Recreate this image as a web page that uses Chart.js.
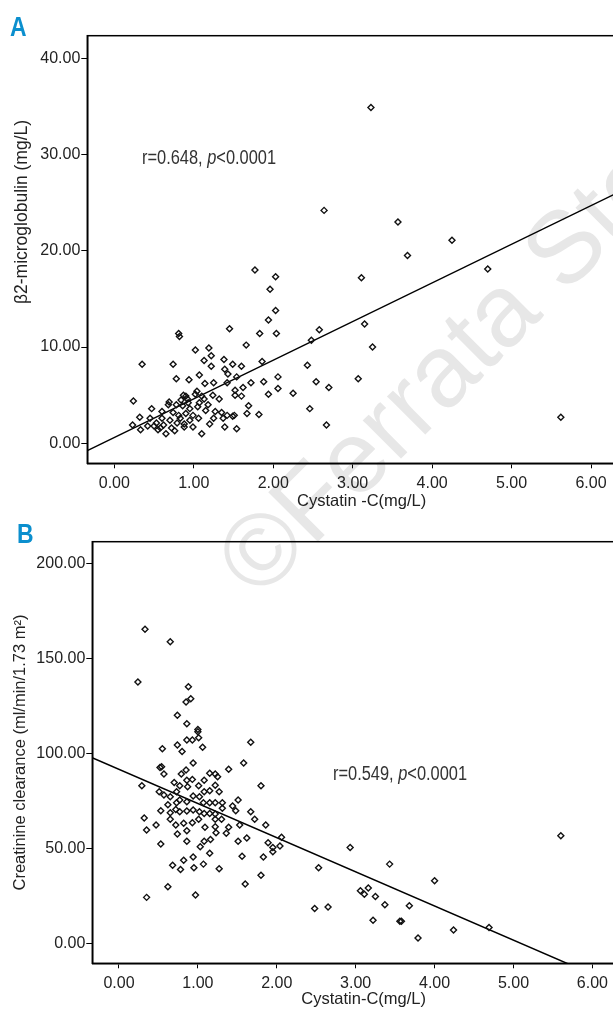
<!DOCTYPE html>
<html><head><meta charset="utf-8">
<script src="https://cdn.jsdelivr.net/npm/chart.js@4.4.1/dist/chart.umd.min.js"></script>
<style>
html,body{margin:0;padding:0;background:#fff;}
body{width:613px;height:1009px;overflow:hidden;position:relative;font-family:'Liberation Sans',Arial,sans-serif;}
#wm{position:absolute;left:198px;top:540px;transform-origin:0 0;transform:rotate(-45deg);font:102px/102px 'Liberation Sans',Arial,sans-serif;color:#e7e7e7;white-space:nowrap;z-index:0;}
canvas{position:absolute;left:0;z-index:1;}
#cA{top:0}
#cB{top:515px}
.lbl{position:absolute;font-weight:bold;font-size:27px;line-height:27px;color:#0b8fce;z-index:2;transform-origin:0 0;transform:scaleX(0.85)}
.ann{position:absolute;font-size:20px;line-height:20px;color:#333;white-space:nowrap;z-index:2;transform-origin:0 0;transform:scaleX(0.82)}
#ytA{position:absolute;left:22px;top:212px;transform:translate(-50%,-50%) rotate(-90deg);font-size:17.5px;line-height:17.5px;color:#222;white-space:nowrap;z-index:2}
</style></head>
<body>
<div id="wm">©Ferrata Storti</div>
<canvas id="cA" width="660" height="515"></canvas>
<canvas id="cB" width="660" height="494"></canvas>
<div class="lbl" style="left:10px;top:14px">A</div>
<div class="lbl" style="left:17px;top:521px">B</div>
<div class="ann" style="left:142px;top:147px">r=0.648, <i>p</i>&lt;0.0001</div>
<div class="ann" style="left:333px;top:763px">r=0.549, <i>p</i>&lt;0.0001</div>
<div id="ytA">β2-microglobulin (mg/L)</div>
<script>
// ---- Panel A data: Cystatin-C (mg/L) vs beta2-microglobulin (mg/L)
const cysA = [1.77,2.03,1.96,2.03,1.94,1.83,2.04,1.45,0.81,0.82,
  0.35,0.74,1.02,1.19,1.22,1.13,1.22,1.38,1.49,1.60,1.66,1.86,1.39,1.43,1.07,0.94,0.78,1.14,1.25,1.42,1.54,1.72,1.88,2.06,2.06,1.94,1.62,1.52,1.52,1.60,2.25,2.43,2.54,2.46,2.48,2.58,
  0.24,0.32,0.23,0.33,0.47,0.45,0.53,0.60,0.69,0.68,0.84,0.90,0.93,1.02,1.07,1.10,1.18,1.24,1.32,1.15,1.27,1.35,1.42,1.51,1.25,1.37,1.49,1.67,1.69,1.82,1.39,1.54,1.10,0.83,0.79,0.72,0.65,0.55,0.62,0.74,0.81,0.90,0.95,0.99,0.88,0.99,1.06,0.95,0.86,1.04,0.87,1.13,0.50,
  0.70,0.58,0.78,0.92,1.05,0.60,0.42,0.88,1.20,0.76,
  3.23,2.64,3.57,4.25,3.69,3.11,4.70,3.15,3.25,2.70,3.07,2.67,5.62];
const b2m = [18.0,17.3,16.0,13.8,12.8,11.4,11.4,11.9,11.4,11.1,
  8.2,8.2,9.7,9.9,9.1,8.6,8.0,8.7,8.2,8.0,10.2,8.5,7.7,7.2,7.1,6.6,6.7,6.2,6.3,6.3,6.9,6.3,6.4,6.9,5.7,5.1,5.8,5.5,5.0,4.9,5.2,8.1,6.4,3.6,10.7,11.8,
  4.4,2.7,1.9,1.4,3.6,2.6,2.1,3.3,4.3,4.0,4.5,4.9,4.2,5.1,4.2,4.9,4.0,5.0,4.6,3.4,3.3,3.2,2.9,2.9,2.6,2.6,2.8,3.1,3.9,3.0,1.7,1.5,1.0,2.6,2.1,1.6,1.0,1.4,1.9,3.2,2.9,3.1,2.4,1.7,1.7,2.9,2.6,3.6,3.9,5.4,5.0,4.6,1.8,
  2.4,1.6,4.0,4.6,3.8,2.6,1.8,2.0,2.0,1.3,
  34.9,24.2,23.0,21.1,19.5,17.2,18.1,12.4,10.0,5.8,6.7,1.9,2.7];
const fitAx = [-0.34, 6.6];
const fitAy = [-0.77, 27.1];

// ---- Panel B data: Cystatin-C (mg/L) vs creatinine clearance
const cysB = [0.33,0.65,0.24,0.88,0.91,0.85,0.74,0.86,1.00,1.00,1.01,0.86,0.93,0.74,1.67,1.06,0.55,0.80,0.94,1.58,
  0.52,0.54,0.57,0.85,0.79,1.39,1.15,1.22,1.25,1.08,0.93,0.86,0.70,0.29,1.80,1.22,1.01,0.87,0.77,0.73,
  0.51,1.08,1.15,1.27,0.57,0.65,0.94,1.02,1.51,0.77,0.86,0.73,1.15,1.22,1.31,1.07,0.62,1.44,1.48,1.31,
  0.53,0.72,0.77,0.86,0.94,1.02,1.08,1.15,1.22,0.65,1.67,1.01,0.65,1.22,1.30,1.72,0.32,0.93,0.82,0.72,
  0.47,1.53,1.86,1.09,1.39,1.22,0.35,0.86,1.23,1.36,0.74,2.06,1.16,1.08,0.86,1.51,1.62,1.89,0.53,1.95,
  1.95,2.04,1.03,1.15,1.56,1.83,0.94,0.82,1.07,0.68,0.78,0.95,1.27,1.80,1.60,0.62,0.97,0.35,2.53,2.48,
  5.60,2.93,3.43,4.00,3.06,3.11,3.16,3.25,3.37,3.68,2.65,3.22,3.56,3.58,3.79,4.24,4.69];
const crcl = [165.3,158.7,137.5,135.1,128.7,127.0,120.0,115.6,112.6,111.4,108.2,107.0,107.0,104.4,105.8,103.2,102.4,101.0,94.9,94.9,
  92.6,92.9,89.1,91.2,89.1,91.6,89.5,89.1,87.7,85.9,86.3,85.9,84.7,82.9,82.9,83.2,82.9,82.4,82.9,79.8,
  79.8,79.8,80.3,79.8,78.1,77.2,77.5,77.2,75.4,75.4,74.5,74.0,74.0,74.0,74.0,74.0,72.9,72.3,69.8,71.1,
  69.8,70.5,69.3,69.6,70.2,69.3,68.4,68.4,68.1,68.7,69.3,65.3,65.3,65.3,65.3,65.3,66.0,63.5,63.2,62.3,
  62.3,62.3,62.3,61.1,61.1,61.4,59.6,59.3,58.2,57.9,57.5,55.8,54.7,53.7,53.7,53.7,55.4,52.9,52.3,50.5,
  48.2,51.2,50.8,47.4,45.9,45.4,45.4,43.7,41.7,41.1,38.9,39.8,39.3,35.8,31.2,29.8,25.4,24.2,39.8,18.4,
  56.6,50.5,41.7,32.9,27.7,25.9,29.1,24.7,20.3,19.8,19.1,12.1,11.6,11.6,2.8,7.0,8.4];
const fitBx = [-0.34, 6.6];
const fitBy = [97.7, -27.1];

// ---- tick labels
const xTicks = [0, 1, 2, 3, 4, 5, 6];
const yTicksA = [0, 10, 20, 30, 40];
const yTicksB = [0, 50, 100, 150, 200];

const FAM = "'Liberation Sans',Arial,sans-serif";
const tickFont = {family: FAM, size: 16, lineHeight: 1};
const titleFont = {family: FAM, size: 16.5, lineHeight: 1};
const TXT = '#222';

const frame = {
  id: 'frame',
  beforeDatasetsDraw(chart) {
    const a = chart.chartArea, c = chart.ctx;
    c.save(); c.strokeStyle = '#000'; c.lineWidth = 1.5;
    c.strokeRect(a.left, a.top, a.right - a.left, a.bottom - a.top);
    c.restore();
  }
};

function makeChart(id, xs, ys, fx, fy, cfg) {
  const pts = xs.map((x, i) => ({x: x, y: ys[i]}));
  const line = fx.map((x, i) => ({x: x, y: fy[i]}));
  const H = document.getElementById(id).height;
  const W = document.getElementById(id).width;
  return new Chart(document.getElementById(id), {
    type: 'scatter',
    data: {datasets: [
      {data: pts, pointStyle: 'rectRot', pointRadius: 3, pointBorderWidth: 1.4,
       pointBorderColor: '#111', pointBackgroundColor: 'rgba(0,0,0,0)', showLine: false},
      {data: line, showLine: true, borderColor: '#000', borderWidth: 1.5, pointRadius: 0}
    ]},
    options: {
      responsive: false, devicePixelRatio: 1, animation: false,
      layout: {padding: {left: 0, top: cfg.top, right: W - cfg.right, bottom: 0}},
      plugins: {legend: {display: false}, tooltip: {enabled: false}},
      scales: {
        x: {type: 'linear', min: cfg.xmin, max: cfg.xmax,
          afterBuildTicks: s => { s.ticks = xTicks.map(v => ({value: v})); },
          afterFit: s => { s.height = H - cfg.bottom; },
          ticks: {callback: v => Number(v).toFixed(2), font: tickFont, color: TXT, padding: 7, maxRotation: 0, autoSkip: false},
          grid: {display: true, drawOnChartArea: false, drawTicks: true, tickLength: 5, color: '#000', lineWidth: 1},
          border: {display: true, color: '#000', width: 1.5},
          title: {display: true, text: cfg.xtitle, font: titleFont, color: TXT, padding: {top: 0, bottom: cfg.xtpad}}
        },
        y: {type: 'linear', min: cfg.ymin, max: cfg.ymax,
          afterBuildTicks: s => { s.ticks = cfg.yTicks.map(v => ({value: v})); },
          afterFit: s => { s.width = cfg.left; },
          ticks: {callback: v => Number(v).toFixed(2), font: tickFont, color: TXT, padding: 1, autoSkip: false},
          grid: {display: true, drawOnChartArea: false, drawTicks: true, tickLength: 6, color: '#000', lineWidth: 1},
          border: {display: true, color: '#000', width: 1.5},
          title: {display: cfg.ytitle !== '', text: cfg.ytitle, font: titleFont, color: TXT, padding: {top: 12, bottom: 0}}
        }
      }
    },
    plugins: [frame]
  });
}

makeChart('cA', cysA, b2m, fitAx, fitAy, {
  top: 35.7, left: 87.3, right: 636, bottom: 463.3,
  xmin: -0.34, xmax: 6.566, ymin: -2.08, ymax: 42.35, yTicks: yTicksA,
  xtitle: 'Cystatin -C(mg/L)', xtpad: 5.5, ytitle: ''
});
makeChart('cB', cysB, crcl, fitBx, fitBy, {
  top: 26.7, left: 92.3, right: 635, bottom: 448.3,
  xmin: -0.338, xmax: 6.54, ymin: -10.5, ymax: 211.4, yTicks: yTicksB,
  xtitle: 'Cystatin-C(mg/L)', xtpad: 1.5, ytitle: 'Creatinine clearance (ml/min/1.73 m²)'
});
</script>
</body></html>
